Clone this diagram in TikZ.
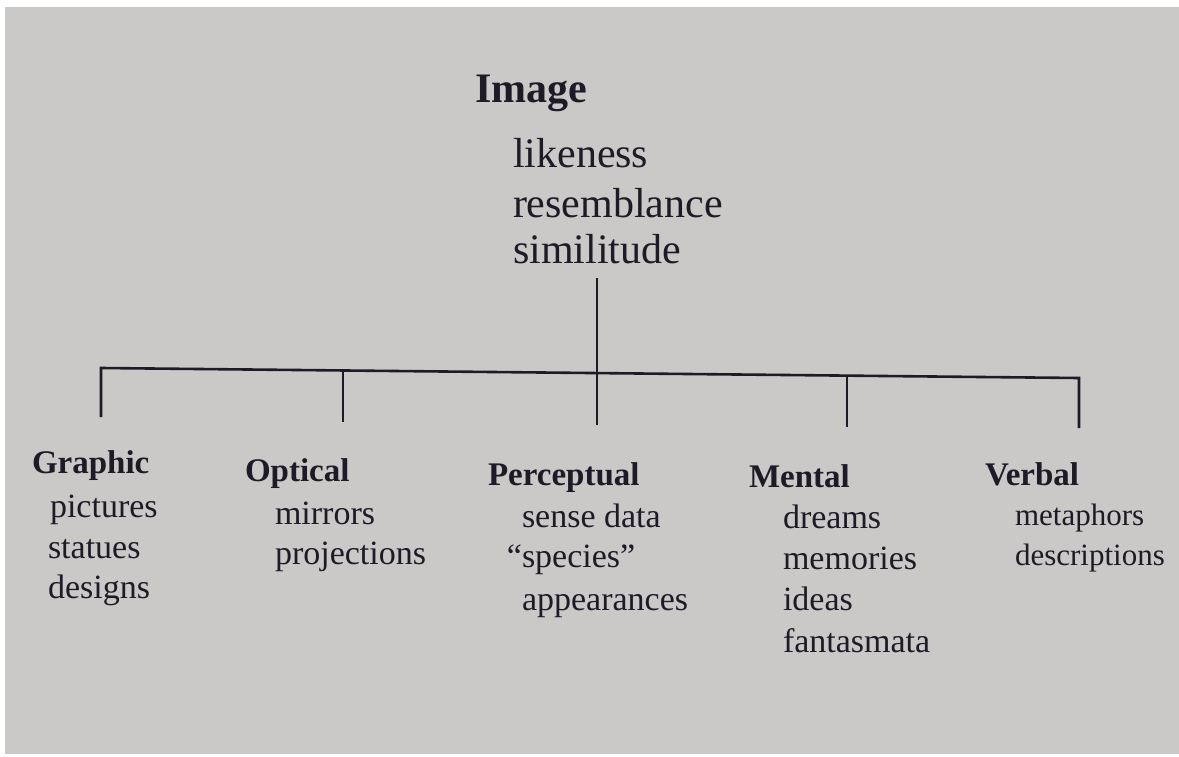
\documentclass[tikz,border=0pt]{standalone}
\usepackage{fontspec}
\setmainfont{Liberation Serif}
\definecolor{paper}{RGB}{203,200,200}
\definecolor{ink}{RGB}{30,27,38}
\tikzset{
  base/.style={anchor=base west, inner sep=0pt, outer sep=0pt, text=ink},
  ttl/.style={base, font=\fontsize{42}{50}\selectfont\bfseries},
  topit/.style={base, font=\fontsize{42}{50}\selectfont},
  head/.style={base, font=\fontsize{33}{40}\selectfont\bfseries},
  item/.style={base, font=\fontsize{34}{41}\selectfont},
  smallitem/.style={base, font=\fontsize{31}{38}\selectfont},
  conn/.style={draw=ink, line width=2.6pt, line join=miter, line cap=butt}
}
\begin{document}
\begin{tikzpicture}[x=1pt, y=-1pt]
  \fill[white] (0,0) rectangle (1179,757);
  \fill[paper] (5,7) rectangle (1179,754);
  \useasboundingbox (0,0) rectangle (1179,757);

  % top
  \node[ttl] (img) at (475,103) {Image};
  \node[topit] (t1) at (513,168) {likeness};
  \node[topit] (t2) at (513,218) {resemblance};
  \node[topit] (t3) at (513,263) {similitude};

  % tree coordinates
  \coordinate (stemtop) at (597,278);
  \coordinate (c) at (597,373);
  \coordinate (b1) at (101,368);
  \coordinate (b2) at (343,370.6);
  \coordinate (b4) at (847,375.5);
  \coordinate (b5) at (1079,378);
  \coordinate (d1) at (101,417);
  \coordinate (d2) at (343,422);
  \coordinate (d3) at (597,425);
  \coordinate (d4) at (847,427);
  \coordinate (d5) at (1079,428);

  \draw[conn] (stemtop) -- (c);
  \draw[conn] (d1) -- (b1) -- (b5) -- (d5);
  \draw[conn] (b2) -- (d2);
  \draw[conn] (c) -- (d3);
  \draw[conn] (b4) -- (d4);

  % Graphic
  \node[head] (g0) at (32,473) {Graphic};
  \node[item] (g1) at (50,517) {pictures};
  \node[item] (g2) at (48,558) {statues};
  \node[item] (g3) at (48,598) {designs};

  % Optical
  \node[head] (o0) at (245,481) {Optical};
  \node[item] (o1) at (275,524) {mirrors};
  \node[item] (o2) at (275,564) {projections};

  % Perceptual
  \node[head] (p0) at (488,485) {Perceptual};
  \node[item] (p1) at (522,527) {sense data};
  \node[item] (p2) at (522,567) {\llap{“}species”};
  \node[item] (p3) at (522,610) {appearances};

  % Mental
  \node[head] (m0) at (749,487) {Mental};
  \node[item] (m1) at (783,528) {dreams};
  \node[item] (m2) at (783,569) {memories};
  \node[item] (m3) at (783,610) {ideas};
  \node[item] (m4) at (783,652) {fantasmata};

  % Verbal
  \node[head] (v0) at (985,485) {Verbal};
  \node[smallitem] (v1) at (1015,525) {metaphors};
  \node[smallitem] (v2) at (1015,565) {descriptions};
\end{tikzpicture}
\end{document}
